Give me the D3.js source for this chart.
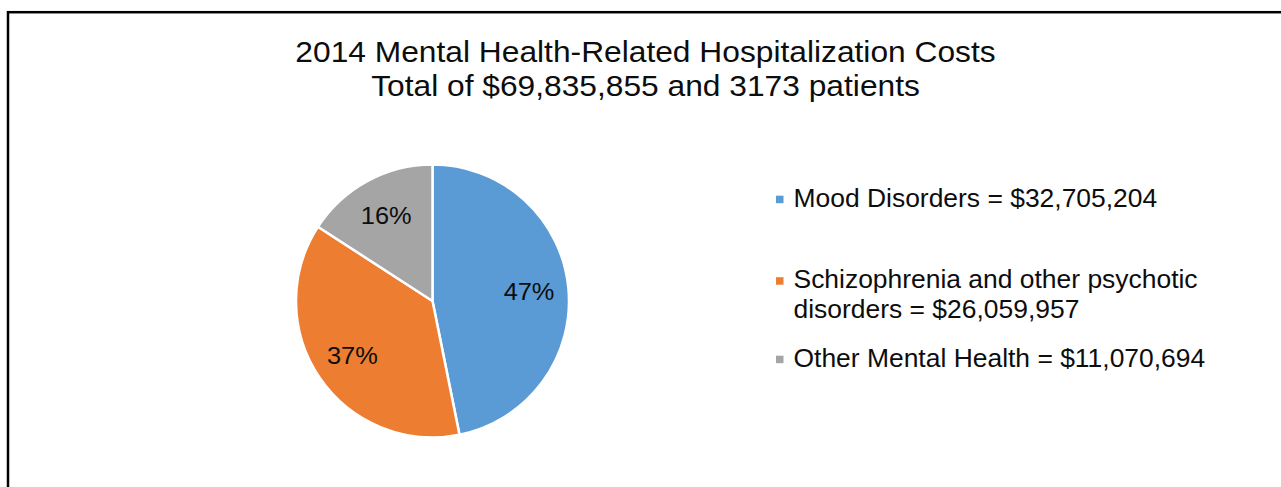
<!DOCTYPE html>
<html>
<head>
<meta charset="utf-8">
<script src="https://cdn.jsdelivr.net/npm/d3@7"></script>
<style>
    body { margin: 0; background: #fff; }
    #chart { width: 1281px; height: 487px; }
    text { font-family: "Liberation Sans", Arial, sans-serif; fill: #0d0d0d; }
</style>
</head>
<body>
<div id="chart"></div>
<script>
// Data
const titleLines = ["2014 Mental Health-Related Hospitalization Costs", "Total of $69,835,855 and 3173 patients"];
const categories = ["Mood Disorders", "Schizophrenia and other psychotic disorders", "Other Mental Health"];
const costs = [32705204, 26059957, 11070694];
const legendLines = [
    ["Mood Disorders = $32,705,204"],
    ["Schizophrenia and other psychotic", "disorders = $26,059,957"],
    ["Other Mental Health = $11,070,694"]
];
const colors = ["#5B9BD5", "#ED7D31", "#A5A5A5"];

const width = 1281, height = 487;
// the original picture is slightly stretched horizontally
const stretch = 1.058;

const svg = d3.select("#chart").append("svg")
    .attr("width", width)
    .attr("height", height);

// chart frame (runs off the right and bottom edges)
svg.append("rect")
    .attr("x", 8)
    .attr("y", 12.2)
    .attr("width", 1400)
    .attr("height", 600)
    .attr("fill", "none")
    .attr("stroke", "#000")
    .attr("stroke-width", 2.5);

// Title
svg.append("g")
    .selectAll("text")
    .data(titleLines)
    .join("text")
    .attr("transform", (d, i) => `translate(645.5,${61.5 + i * 34.5}) scale(${stretch},1)`)
    .attr("text-anchor", "middle")
    .attr("font-size", 30)
    .text(d => d);

// Pie
const data = categories.map((c, i) => ({ category: c, value: costs[i] }));
const total = d3.sum(costs);
const cx = 432.5, cy = 301, r = 136.5;

const pie = d3.pie()
    .value(d => d.value)
    .sort(null);

const arc = d3.arc()
    .innerRadius(0)
    .outerRadius(r);

const labelArc = d3.arc()
    .innerRadius(97)
    .outerRadius(97);

const g = svg.append("g")
    .attr("transform", `translate(${cx},${cy})`);

const arcs = pie(data);

g.selectAll("path")
    .data(arcs)
    .join("path")
    .attr("d", arc)
    .attr("fill", (d, i) => colors[i])
    .attr("stroke", "#fff")
    .attr("stroke-width", 2.5)
    .attr("stroke-linejoin", "round");

g.selectAll("text")
    .data(arcs)
    .join("text")
    .attr("transform", d => `translate(${labelArc.centroid(d)}) scale(${stretch},1)`)
    .attr("text-anchor", "middle")
    .attr("dy", "0.36em")
    .attr("font-size", 24)
    .text(d => Math.round(d.data.value / total * 100) + "%");

// Legend
const legendY = [206.5, 288, 366.5];
const legend = svg.append("g")
    .selectAll("g")
    .data(legendLines)
    .join("g")
    .attr("transform", (d, i) => `translate(776,${legendY[i]})`);

legend.append("rect")
    .attr("x", 0)
    .attr("y", -10.8)
    .attr("width", 7.5)
    .attr("height", 7.5)
    .attr("fill", (d, i) => colors[i]);

legend.selectAll("text")
    .data(d => d)
    .join("text")
    .attr("transform", (d, i) => `translate(17.5,${i * 30}) scale(${stretch},1)`)
    .attr("font-size", 25)
    .text(d => d);
</script>
</body>
</html>
